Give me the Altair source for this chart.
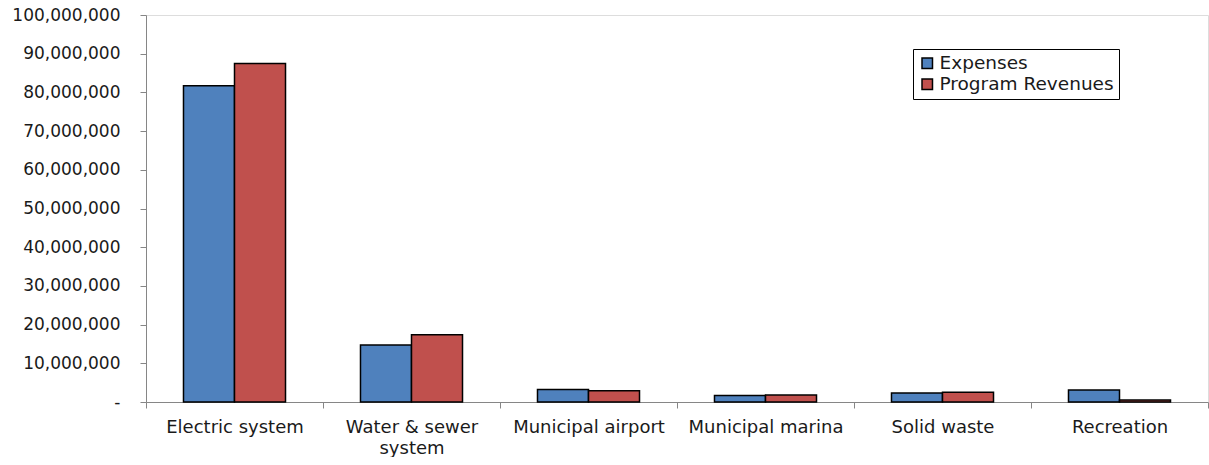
import altair as alt
import pandas as pd

categories = ["Electric system", "Water & sewer system", "Municipal airport",
              "Municipal marina", "Solid waste", "Recreation"]
series = ["Expenses", "Program Revenues"]
expenses = [81700000, 14700000, 3200000, 1700000, 2300000, 3100000]
revenues = [87500000, 17400000, 2900000, 1800000, 2500000, 500000]
colors = ["#4F81BD", "#C0504D"]
y_ticks = list(range(0, 100000001, 10000000))

rows = []
for c, e, r in zip(categories, expenses, revenues):
    rows.append({"category": c, "series": series[0], "value": e})
    rows.append({"category": c, "series": series[1], "value": r})
df = pd.DataFrame(rows)

FONT = "DejaVu Sans"

chart = alt.Chart(df).mark_bar(stroke="black", strokeWidth=1.5).encode(
    x=alt.X("category:N", sort=categories, title=None,
            scale=alt.Scale(paddingInner=0, paddingOuter=0),
            axis=alt.Axis(labelAngle=0, tickBand="extent", domainColor="#868686",
                          tickColor="#868686", tickSize=6, labelPadding=10,
                          labelFontSize=18, labelFont=FONT, labelColor="#1a1a1a",
                          labelLimit=300, labelLineHeight=21,
                          labelExpr="datum.value == 'Water & sewer system' ? ['Water & sewer', 'system'] : datum.label")),
    xOffset=alt.XOffset("series:N", sort=series,
                        scale=alt.Scale(paddingInner=0, paddingOuter=0.735)),
    y=alt.Y("value:Q", title=None,
            scale=alt.Scale(domain=[0, 100000000], nice=False),
            axis=alt.Axis(values=y_ticks, grid=False, domainColor="#868686",
                          tickColor="#868686", tickSize=6, labelPadding=20,
                          labelFontSize=17, labelFont=FONT, labelColor="#1a1a1a",
                          labelExpr="datum.value == 0 ? '-' : format(datum.value, ',')")),
    color=alt.Color("series:N", sort=series,
                    scale=alt.Scale(domain=series, range=colors),
                    legend=alt.Legend(title=None, orient="none", legendX=767, legendY=34,
                                      strokeColor="black", padding=5,
                                      symbolType="square", symbolSize=110,
                                      symbolStrokeColor="black", symbolStrokeWidth=1.5,
                                      labelFontSize=18.5, labelFont=FONT, labelColor="#1a1a1a",
                                      labelLimit=400,
                                      labelOffset=3, rowPadding=2)),
).properties(
    width=1062, height=387,
    padding={"left": 11, "top": 6, "right": 0, "bottom": 0}
).configure_view(stroke=None).configure(background="white")

chart.save("out.html", embed_options={"renderer": "svg", "actions": False})
